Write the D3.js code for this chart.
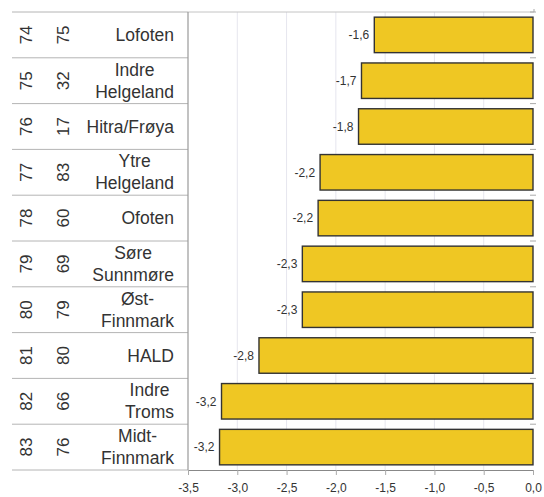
<!DOCTYPE html>
<html><head><meta charset="utf-8">
<script src="https://cdn.jsdelivr.net/npm/d3@7"></script>
<style>body{margin:0;background:#fff;} svg{display:block;font-family:"Liberation Sans",Arial,sans-serif;}</style>
</head><body>
<svg id="c" width="544" height="497"></svg>
<script>
const regions = ["Lofoten","Indre\nHelgeland","Hitra/Frøya","Ytre\nHelgeland","Ofoten","Søre\nSunnmøre","Øst-\nFinnmark","HALD","Indre\nTroms","Midt-\nFinnmark"];
const rankA = [74,75,76,77,78,79,80,81,82,83];
const rankB = [75,32,17,83,60,69,79,80,66,76];
const values = [-1.61,-1.74,-1.77,-2.16,-2.18,-2.34,-2.34,-2.78,-3.16,-3.18];
const xTicks = [-3.5,-3.0,-2.5,-2.0,-1.5,-1.0,-0.5,0.0];

const svg = d3.select("#c");
const L = 188, R = 533, T = 12, B = 470, tableL = 12;
const fmt = v => d3.format(".1f")(v).replace(".", ",").replace("−","-");

const x = d3.scaleLinear().domain([-3.5, 0]).range([L, R]);
const yBand = d3.scaleBand().domain(d3.range(regions.length)).range([T, B]).paddingInner(0.225).paddingOuter(0.1125);
const yRow = d3.scaleBand().domain(d3.range(regions.length)).range([T, B]);

// gridlines
svg.append("g").selectAll("line").data(xTicks.slice(1, -1)).join("line")
  .attr("x1", d => x(d)).attr("x2", d => x(d)).attr("y1", T).attr("y2", B)
  .attr("stroke", "#e6e6ee").attr("stroke-width", 1);

// table row separators
const bounds = d3.range(regions.length + 1).map(i => T + i * yRow.bandwidth());
svg.append("g").selectAll("line").data(bounds).join("line")
  .attr("x1", tableL).attr("x2", L).attr("y1", d => d).attr("y2", d => d)
  .attr("stroke", "#b4b4b4").attr("stroke-width", 1);
// top border across plot
svg.append("line").attr("x1", L).attr("x2", R + 1).attr("y1", T).attr("y2", T)
  .attr("stroke", "#c4c4c4").attr("stroke-width", 1);
// right small ticks at row boundaries
svg.append("g").selectAll("line").data(bounds.slice(0, -1)).join("line")
  .attr("x1", R - 3).attr("x2", R + 3).attr("y1", d => d).attr("y2", d => d)
  .attr("stroke", "#aaa").attr("stroke-width", 1);
svg.append("line").attr("x1", R + 1).attr("x2", R + 1).attr("y1", T - 3).attr("y2", T)
  .attr("stroke", "#aaa");

// bars
svg.append("g").selectAll("rect").data(values).join("rect")
  .attr("x", d => x(d)).attr("width", d => x(0) - x(d))
  .attr("y", (d, i) => yBand(i)).attr("height", yBand.bandwidth())
  .attr("fill", "#efc723").attr("stroke", "#333").attr("stroke-width", 1.4);

// value labels
svg.append("g").selectAll("text").data(values).join("text")
  .attr("x", d => x(d) - 5).attr("y", (d, i) => yRow(i) + yRow.bandwidth() / 2)
  .attr("dy", "0.35em").attr("text-anchor", "end")
  .attr("font-size", 12).attr("fill", "#333").text(d => fmt(d));

// left plot border
svg.append("line").attr("x1", L).attr("x2", L).attr("y1", T).attr("y2", B)
  .attr("stroke", "#999").attr("stroke-width", 1.2);

// x axis
const xAxis = d3.axisBottom(x).tickValues(xTicks).tickSize(5).tickPadding(8).tickFormat(fmt);
const gx = svg.append("g").attr("transform", `translate(0,${B})`).call(xAxis);
gx.select(".domain").attr("stroke", "#888");
gx.selectAll(".tick line").attr("stroke", "#aaa");
gx.selectAll("text").attr("font-size", 12).attr("fill", "#333").attr("font-family", "Liberation Sans, Arial, sans-serif");

// rank columns (rotated)
const rc = (i) => yRow(i) + yRow.bandwidth() / 2;
[[rankA, 26], [rankB, 63]].forEach(([arr, cx]) => {
  svg.append("g").selectAll("text").data(arr).join("text")
    .attr("transform", (d, i) => `translate(${cx},${rc(i)}) rotate(-90)`)
    .attr("text-anchor", "middle").attr("dy", "0.35em")
    .attr("font-size", 17).attr("fill", "#333").text(d => d);
});

// region names
const nameRight = 174;
regions.forEach((name, i) => {
  const lines = name.split("\n");
  const g = svg.append("g");
  const lh = 22;
  const ts = lines.map((ln, k) => g.append("text")
    .attr("y", rc(i) + (k - (lines.length - 1) / 2) * lh)
    .attr("dy", "0.35em").attr("font-size", 17.5).attr("fill", "#333").text(ln));
  const maxW = d3.max(ts, t => t.node().getComputedTextLength());
  ts.forEach(t => t.attr("x", nameRight - maxW / 2).attr("text-anchor", "middle"));
});
</script>
</body></html>
